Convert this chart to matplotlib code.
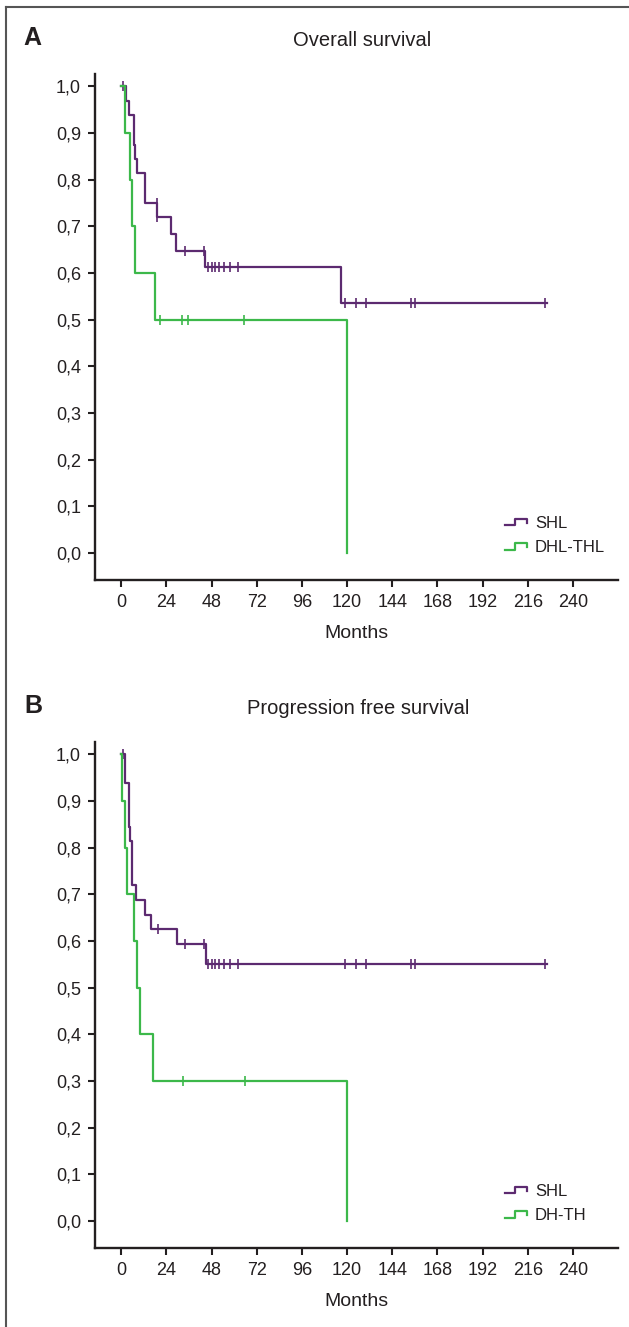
import numpy as np
import matplotlib
matplotlib.use("Agg")
import matplotlib.pyplot as plt
from matplotlib.lines import Line2D
from matplotlib.legend_handler import HandlerBase

# ---- data (months, survival probability) ----
month_ticks = list(range(0, 241, 24))
surv_ticks = [round(0.1 * i, 1) for i in range(11)]

# A: overall survival
os_shl_t = [0, 2.6, 4.0, 6.5, 7.5, 8.5, 12.7, 19.0, 26.2, 29.2, 44.6, 117.0]
os_shl_s = [1.0, 0.969, 0.938, 0.875, 0.844, 0.813, 0.75, 0.719, 0.684, 0.647, 0.612, 0.536]
os_shl_end = 226
os_shl_cens = [1, 18.9, 19.2, 33.6, 43.9, 46, 48, 50, 52, 54.5, 58, 62, 119, 125, 130, 154, 156, 225]

os_dhl_t = [0, 1.75, 4.4, 5.8, 7.4, 17.7, 120.0]
os_dhl_s = [1.0, 0.9, 0.8, 0.7, 0.6, 0.5, 0.0]
os_dhl_end = 120
os_dhl_cens = [20.3, 32.4, 35.6, 65.3]

# B: progression free survival
pfs_shl_t = [0, 1.8, 3.9, 4.8, 5.6, 8.0, 12.4, 15.9, 29.7, 44.8]
pfs_shl_s = [1.0, 0.938, 0.844, 0.813, 0.719, 0.688, 0.656, 0.625, 0.594, 0.55]
pfs_shl_end = 226
pfs_shl_cens = [1, 19.5, 34.1, 44.2, 46, 48, 50, 52, 54.5, 58, 62, 119, 125, 130, 154, 156, 225]

pfs_dh_t = [0, 0.3, 1.75, 3.2, 6.5, 8.5, 10.1, 16.8, 120.0]
pfs_dh_s = [1.0, 0.9, 0.8, 0.7, 0.6, 0.5, 0.4, 0.3, 0.0]
pfs_dh_end = 120
pfs_dh_cens = [32.7, 65.6]

PURPLE = "#5c2a70"
GREEN = "#3cb84a"
DARK = "#231f20"
FONT = ["Liberation Sans", "DejaVu Sans"]


class StepHandler(HandlerBase):
    """little step glyph like the KM legend"""
    def create_artists(self, legend, orig_handle, xdescent, ydescent,
                       width, height, fontsize, trans):
        xs = np.array([0, 0.45, 0.45, 1.0, 1.0]) * width - xdescent
        ys = np.array([0.2, 0.2, 0.75, 0.75, 0.4]) * height - ydescent
        return [Line2D(xs, ys, color=orig_handle.get_color(), lw=1.6, transform=trans)]


def km(ax, t, s, end, cens, color, label):
    t = list(t) + ([end] if end > t[-1] else [])
    s = list(s) + ([s[-1]] if len(t) > len(s) else [])
    line, = ax.step(t, s, where="post", color=color, lw=1.6, label=label)
    idx = np.searchsorted(np.array(t), np.array(cens), side="right") - 1
    cy = np.array(s)[idx]
    ax.plot(cens, cy, ls="none", marker="|", ms=7, mew=1.2, color=color)
    return line


def style(ax):
    for sp in ["top", "right"]:
        ax.spines[sp].set_visible(False)
    for sp in ["left", "bottom"]:
        ax.spines[sp].set_linewidth(1.7)
        ax.spines[sp].set_color(DARK)
    ax.set_xlim(-14, 264)
    ax.set_ylim(-0.058, 1.026)
    ax.set_xticks(month_ticks)
    ax.set_yticks(surv_ticks)
    ax.set_yticklabels([f"{v:.1f}".replace(".", ",") for v in surv_ticks])
    ax.tick_params(direction="out", length=5, width=1.5, color=DARK,
                   labelcolor=DARK, labelsize=13, pad=5)
    for lab in ax.get_xticklabels() + ax.get_yticklabels():
        lab.set_family(FONT)
    ax.set_xlabel("Months", fontsize=14, color=DARK, labelpad=10, family=FONT)


fig = plt.figure(figsize=(6.29, 13.27), dpi=100)
axA = fig.add_axes([0.151, 0.5629, 0.8315, 0.3813])
axB = fig.add_axes([0.151, 0.0595, 0.8315, 0.3813])

hA = [km(axA, os_shl_t, os_shl_s, os_shl_end, os_shl_cens, PURPLE, "SHL"),
      km(axA, os_dhl_t, os_dhl_s, os_dhl_end, os_dhl_cens, GREEN, "DHL-THL")]
hB = [km(axB, pfs_shl_t, pfs_shl_s, pfs_shl_end, pfs_shl_cens, PURPLE, "SHL"),
      km(axB, pfs_dh_t, pfs_dh_s, pfs_dh_end, pfs_dh_cens, GREEN, "DH-TH")]

for ax, h in [(axA, hA), (axB, hB)]:
    style(ax)
    leg = ax.legend(handles=h, handler_map={Line2D: StepHandler()},
                    loc="lower left", bbox_to_anchor=(0.755, 0.02), frameon=False,
                    handlelength=1.3, handletextpad=0.5, labelspacing=0.55,
                    prop={"family": FONT, "size": 12})
    for txt in leg.get_texts():
        txt.set_color(DARK)

# panel letters and titles
fig.text(32 / 629, 1 - 38 / 1327, "A", fontsize=18, fontweight="bold",
         ha="center", va="center", color=DARK, family=FONT)
fig.text(362 / 629, 1 - 40 / 1327, "Overall survival", fontsize=14.5,
         ha="center", va="center", color=DARK, family=FONT)
fig.text(33 / 629, 1 - 706 / 1327, "B", fontsize=18, fontweight="bold",
         ha="center", va="center", color=DARK, family=FONT)
fig.text(358 / 629, 1 - 708 / 1327, "Progression free survival", fontsize=14.5,
         ha="center", va="center", color=DARK, family=FONT)

# partial frame (top and left edge of the figure box)
fig.add_artist(Line2D([6 / 629, 1], [1 - 7 / 1327, 1 - 7 / 1327],
                      transform=fig.transFigure, color="#555555", lw=1.5))
fig.add_artist(Line2D([6 / 629, 6 / 629], [0, 1 - 7 / 1327],
                      transform=fig.transFigure, color="#555555", lw=1.5))

fig.savefig("out.png", dpi=100)
